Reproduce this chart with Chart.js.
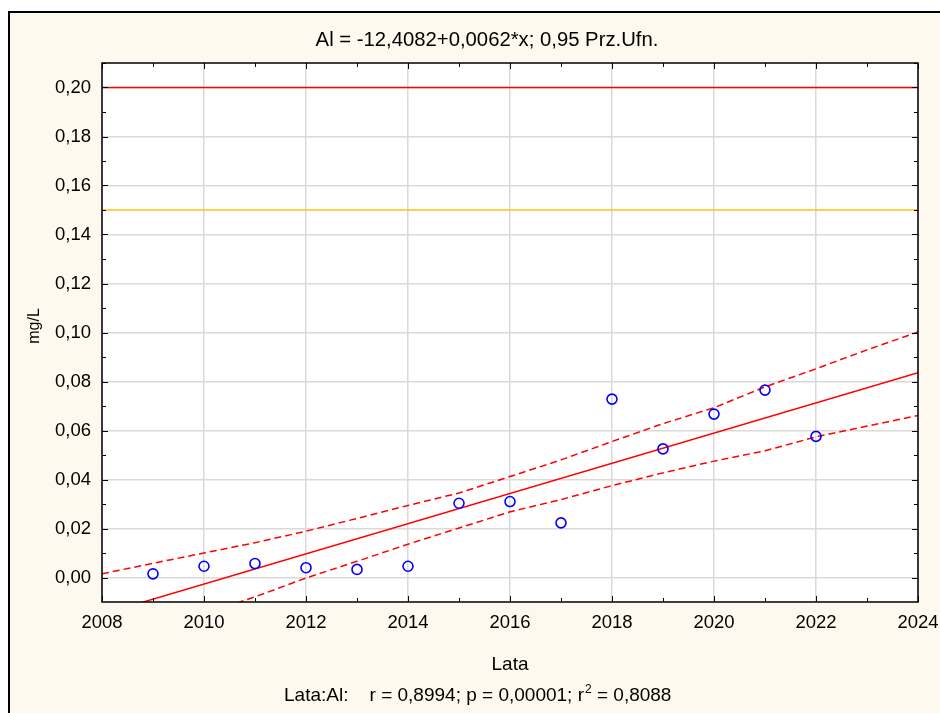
<!DOCTYPE html>
<html><head><meta charset="utf-8">
<script src="https://cdn.jsdelivr.net/npm/chart.js@4.4.1/dist/chart.umd.min.js"></script>
<style>html,body{margin:0;padding:0;background:#fff}#wrap{width:940px;height:713px;position:relative}</style>
</head><body><div id="wrap"><canvas id="c"></canvas></div>
<script>
// ---- data ----
const years = [2009,2010,2011,2012,2013,2014,2015,2016,2017,2018,2019,2020,2021,2022];
const alValues = [0.0015,0.0046,0.0057,0.0040,0.0033,0.0046,0.0303,0.0310,0.0223,0.0728,0.0525,0.0667,0.0765,0.0576];
const bandYears = [2008,2009,2010,2011,2012,2013,2014,2015,2016,2017,2018,2019,2020,2021,2022,2023,2024];
const upperBand = [0.0015,0.0058,0.0100,0.0142,0.0189,0.0241,0.0294,0.0345,0.0412,0.0480,0.0555,0.0628,0.0693,0.0778,0.0852,0.0929,0.1002];
const lowerBand = [-0.0300,-0.0226,-0.0150,-0.0079,-0.0002,0.0066,0.0136,0.0202,0.0268,0.0318,0.0375,0.0427,0.0475,0.0517,0.0574,0.0618,0.0661];
const fitYears = [2008, 2024];
const fitValues = [-0.0150, 0.0836];
const limitYears = [2008, 2024];
const limitRed = 0.20;
const limitYellow = 0.15;
const xTicks = [2008,2010,2012,2014,2016,2018,2020,2022,2024];
const yTicks = [0.00,0.02,0.04,0.06,0.08,0.10,0.12,0.14,0.16,0.18,0.20];
const titleText = 'Al = -12,4082+0,0062*x; 0,95 Prz.Ufn.';
const xTitle = 'Lata';
const yTitle = 'mg/L';
const statsMain = 'Lata:Al:    r = 0,8994; p = 0,00001; r';
const statsSup = '2';
const statsEnd = ' = 0,8088';

const FONT = "'Liberation Sans', Arial, sans-serif";
const pts = (xs, ys) => xs.map((x, i) => ({x: x, y: ys[i]}));

const framePlugin = {
  id: 'frame',
  beforeDraw(chart) {
    const ctx = chart.ctx, a = chart.chartArea;
    ctx.save();
    ctx.fillStyle = '#ffffff';
    ctx.fillRect(0, 0, chart.width, chart.height);
    ctx.fillStyle = '#FEF9EE';
    ctx.fillRect(8, 11, chart.width, chart.height);
    ctx.strokeStyle = '#000';
    ctx.lineWidth = 2;
    ctx.strokeRect(9, 12, chart.width + 20, chart.height + 20);
    ctx.fillStyle = '#ffffff';
    ctx.fillRect(a.left, a.top, a.right - a.left, a.bottom - a.top);
    ctx.restore();
  },
  afterDraw(chart) {
    const ctx = chart.ctx, a = chart.chartArea;
    const xs = chart.scales.x, ys = chart.scales.y;
    ctx.save();
    ctx.strokeStyle = '#000';
    ctx.lineWidth = 1.5;
    ctx.strokeRect(a.left, a.top, a.right - a.left, a.bottom - a.top);
    ctx.lineWidth = 1;
    ctx.beginPath();
    for (let yr = 2008; yr <= 2024; yr++) {
      const px = Math.round(xs.getPixelForValue(yr)) + 0.5;
      const len = (yr % 2 === 0) ? 6 : 4;
      ctx.moveTo(px, a.bottom); ctx.lineTo(px, a.bottom - len);
      ctx.moveTo(px, a.top); ctx.lineTo(px, a.top + len);
    }
    for (let k = 0; k <= 21; k++) {
      const v = k / 100;
      const py = Math.round(ys.getPixelForValue(v)) + 0.5;
      const len = (k % 2 === 0) ? 6 : 4;
      ctx.moveTo(a.left, py); ctx.lineTo(a.left + len, py);
      ctx.moveTo(a.right, py); ctx.lineTo(a.right - len, py);
    }
    ctx.stroke();

    ctx.fillStyle = '#000';
    ctx.textBaseline = 'alphabetic';
    ctx.font = '20.3px ' + FONT;
    ctx.textAlign = 'center';
    ctx.fillText(titleText, 487, 46);
    ctx.font = '19px ' + FONT;
    ctx.fillText(xTitle, (a.left + a.right) / 2, 670);
    // stats line
    ctx.textAlign = 'left';
    let sx = 284;
    ctx.fillText(statsMain, sx, 701);
    sx += ctx.measureText(statsMain).width;
    ctx.font = '12px ' + FONT;
    ctx.fillText(statsSup, sx + 1, 693);
    sx += ctx.measureText(statsSup).width + 1;
    ctx.font = '19px ' + FONT;
    ctx.fillText(statsEnd, sx, 701);
    // y title
    ctx.save();
    ctx.translate(39, 326);
    ctx.rotate(-Math.PI / 2);
    ctx.textAlign = 'center';
    ctx.font = '16px ' + FONT;
    ctx.fillText(yTitle, 0, 0);
    ctx.restore();
    ctx.restore();
  }
};

new Chart(document.getElementById('c'), {
  type: 'scatter',
  data: {
    datasets: [
      { data: pts(years, alValues), showLine: false, pointStyle: 'circle', pointRadius: 5,
        borderColor: '#0000FF', backgroundColor: 'rgba(0,0,0,0)', pointBorderWidth: 1.6 },
      { data: pts(fitYears, fitValues), showLine: true, pointRadius: 0, borderColor: '#FF0000', borderWidth: 1.5 },
      { data: pts(bandYears, upperBand), showLine: true, pointRadius: 0, borderColor: '#FF0000', borderWidth: 1.5, borderDash: [7, 4] },
      { data: pts(bandYears, lowerBand), showLine: true, pointRadius: 0, borderColor: '#FF0000', borderWidth: 1.5, borderDash: [7, 4] },
      { data: pts(limitYears, [limitRed, limitRed]), showLine: true, pointRadius: 0, borderColor: '#FF0000', borderWidth: 1.5 },
      { data: pts(limitYears, [limitYellow, limitYellow]), showLine: true, pointRadius: 0, borderColor: '#FFC020', borderWidth: 1.5 }
    ]
  },
  options: {
    responsive: true,
    maintainAspectRatio: false,
    animation: false,
    events: [],
    layout: { padding: { left: 0, right: 22, top: 63, bottom: 0 } },
    plugins: { legend: { display: false }, tooltip: { enabled: false } },
    scales: {
      x: {
        type: 'linear', min: 2008, max: 2024,
        afterBuildTicks: s => { s.ticks = xTicks.map(v => ({ value: v })); },
        afterFit: s => { s.height = 111; s.paddingLeft = 0; s.paddingRight = 0; },
        ticks: { color: '#000', font: { family: FONT, size: 18.5 }, padding: 10, callback: v => String(v), maxRotation: 0 },
        grid: { color: '#DADADA', lineWidth: 1.5, drawTicks: false },
        border: { display: false }
      },
      y: {
        type: 'linear', min: -0.01, max: 0.21,
        afterBuildTicks: s => { s.ticks = yTicks.map(v => ({ value: v })); },
        afterFit: s => { s.width = 102; s.paddingTop = 0; s.paddingBottom = 0; },
        ticks: { color: '#000', font: { family: FONT, size: 18.5 }, padding: 11, callback: v => v.toFixed(2).replace('.', ',') },
        grid: { color: '#DADADA', lineWidth: 1.5, drawTicks: false },
        border: { display: false }
      }
    }
  },
  plugins: [framePlugin]
});
</script>
</body></html>
